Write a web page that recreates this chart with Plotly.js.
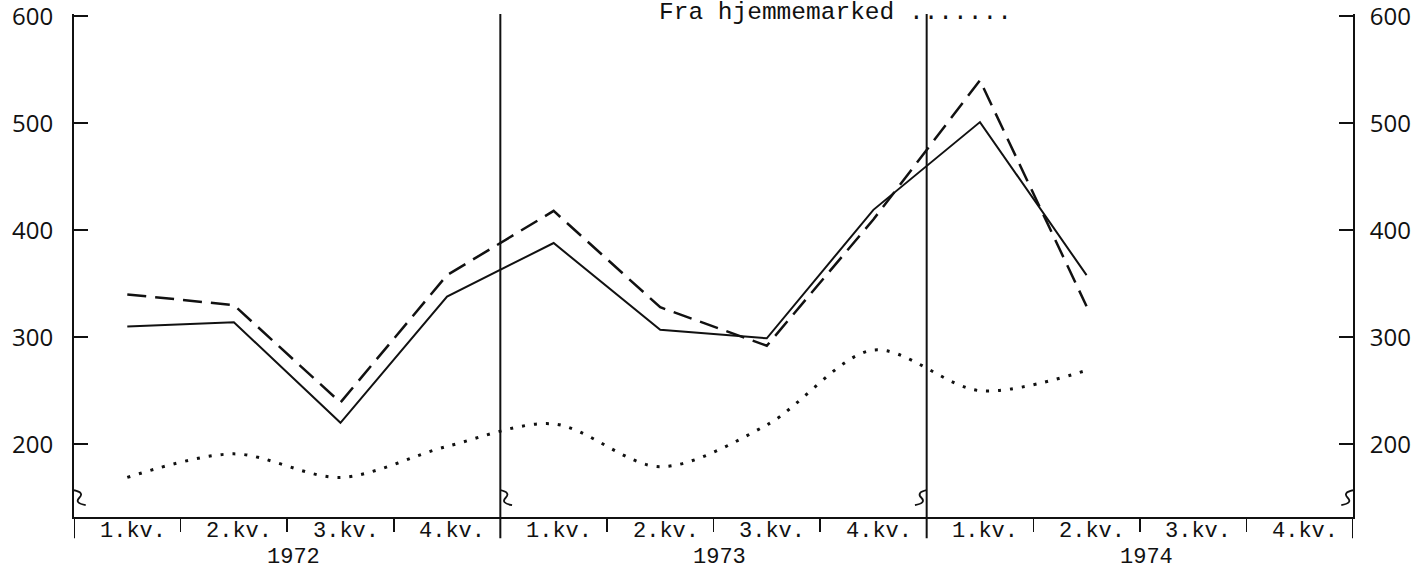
<!DOCTYPE html>
<html>
<head>
<meta charset="utf-8">
<script src="https://cdn.plot.ly/plotly-3.0.1.min.js"></script>
<style>html,body{margin:0;padding:0;background:#fff;}#chart{width:1418px;height:571px;}</style>
</head>
<body>
<div id="chart"></div>
<script>
// ---- data (quarter index 0 = 1972 1.kv.) ----
const quarterIdx = [0, 1, 2, 3, 4, 5, 6, 7, 8, 9];
const solidVals  = [310, 314, 220, 338, 388, 307, 299, 419, 501, 358];
const dashedVals = [340, 330, 239, 358, 418, 328, 292, 410, 540, 329];
const dottedVals = [169, 191, 169, 198, 219, 179, 218, 288, 250, 269];
const quarterLabels = ["1.kv.", "2.kv.", "3.kv.", "4.kv."];
const years = ["1972", "1973", "1974"];
const yTicks = [200, 300, 400, 500, 600];
const legendText = "Fra hjemmemarked .......";

const xc = quarterIdx.map(q => q + 0.5);
const mono = "Liberation Mono, Courier New, monospace";
const sans = "Open Sans, Noto Sans, sans-serif";

const traces = [
  {x: xc, y: solidVals, mode: "lines", name: "Kurve 1",
   line: {color: "#111", width: 2}},
  {x: xc, y: dashedVals, mode: "lines", name: "Kurve 2",
   line: {color: "#111", width: 2.5, dash: "19px,9px"}},
  {x: xc, y: dottedVals, mode: "lines", name: "Fra hjemmemarked",
   line: {color: "#111", width: 3, dash: "3px,9px", shape: "spline", smoothing: 0.9}},
  {x: [0], y: [600], yaxis: "y2", mode: "none", showlegend: false, hoverinfo: "skip"}
];

const annotations = [];
for (let y = 0; y < years.length; y++) {
  for (let q = 0; q < 4; q++) {
    annotations.push({x: y * 4 + q + 0.55, y: -0.028, xref: "x", yref: "paper",
      text: quarterLabels[q], showarrow: false, xanchor: "center", yanchor: "middle",
      font: {family: mono, size: 22, color: "#111"}});
  }
  annotations.push({x: y * 4 + 2.06, y: -0.080, xref: "x", yref: "paper",
    text: years[y], showarrow: false, xanchor: "center", yanchor: "middle", borderpad: 0,
    font: {family: mono, size: 22, color: "#111"}});
}
annotations.push({x: (658 - 74) / 106.6, y: 1.032, xref: "x", yref: "paper", text: legendText,
  showarrow: false, xanchor: "left", yanchor: "top", borderpad: 0,
  font: {family: mono, size: 24.5, color: "#111"}});

const shapes = [];
const seps = [0, 4, 8, 12];
seps.forEach((sx, i) => {
  shapes.push({type: "line", xref: "x", yref: "paper", x0: sx, x1: sx,
    y0: -0.042, y1: (i === 0 || i === 3) ? 0 : 1.0,
    line: {color: "#111", width: 2}});
  const d = (i < 2) ? 1 : -1;
  const p = `M ${sx},157 Q ${sx + d * 0.10},155 ${sx + d * 0.05},150 T ${sx + d * 0.11},143`;
  shapes.push({type: "path", xref: "x", yref: "y", path: p,
    line: {color: "#111", width: 1.8}});
});

const yCommon = {range: [132, 602], showgrid: false, zeroline: false,
  showline: true, linecolor: "#111", linewidth: 2,
  tickmode: "array", tickvals: yTicks, ticks: "inside", ticklen: 14,
  tickwidth: 2, tickcolor: "#111", ticklabeloverflow: "allow",
  tickfont: {family: sans, size: 24, color: "#111"}};

const layout = {
  width: 1418, height: 571,
  margin: {l: 74, r: 65, t: 14, b: 54},
  paper_bgcolor: "#fff", plot_bgcolor: "#fff",
  showlegend: false,
  xaxis: {range: [0, 12], showgrid: false, zeroline: false,
    showline: true, linecolor: "#111", linewidth: 2,
    tickmode: "array", tickvals: [], showticklabels: false,
    minor: {tickmode: "array", tickvals: [1, 2, 3, 5, 6, 7, 9, 10, 11],
      ticks: "outside", ticklen: 13, tickwidth: 1.5, tickcolor: "#111"}},
  yaxis: Object.assign({}, yCommon, {ticklabelstandoff: 14}),
  yaxis2: Object.assign({}, yCommon, {overlaying: "y", side: "right", anchor: "x",
    ticklabelstandoff: 10}),
  annotations: annotations,
  shapes: shapes
};

Plotly.newPlot("chart", traces, layout, {displayModeBar: false, staticPlot: true});
</script>
</body>
</html>
